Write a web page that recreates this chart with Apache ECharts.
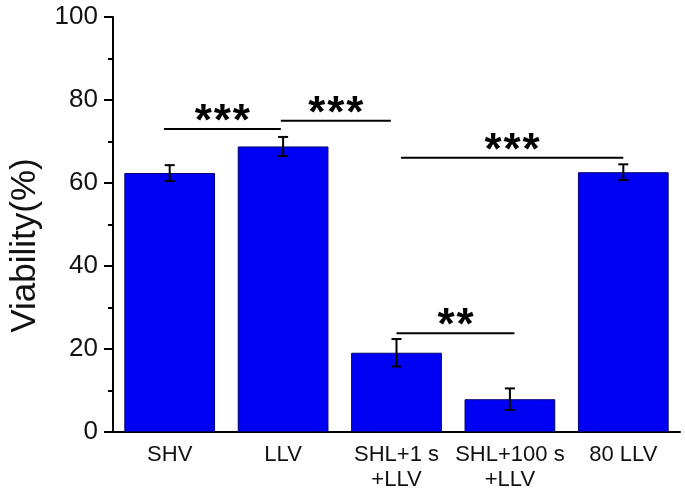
<!DOCTYPE html>
<html><head><meta charset="utf-8">
<script src="https://cdn.jsdelivr.net/npm/echarts@6/dist/echarts.min.js"></script>
<style>html,body{margin:0;padding:0;background:#fff}#c{width:685px;height:495px}</style>
</head><body><div id="c"></div>
<script>
var categories = ['SHV', 'LLV', 'SHL+1 s\n+LLV', 'SHL+100 s\n+LLV', '80 LLV'];
var means = [62.4, 68.8, 19.1, 7.9, 62.6];
var errors = [1.9, 2.3, 3.3, 2.6, 1.9];
var yTicks = [0, 20, 40, 60, 80, 100];
// significance brackets: [x start (category index), x end, y value, label]
var brackets = [
  [-0.05, 0.98, 73.0, '***'],
  [0.98, 1.95, 75.0, '***'],
  [2.04, 4.0, 66.1, '***'],
  [2.0, 3.04, 23.8, '**']
];

var errData = means.map(function (m, i) { return [i, m - errors[i], m + errors[i]]; });

var chart = echarts.init(document.getElementById('c'), null, {renderer: 'canvas'});
var FONT = 'Liberation Sans, Arial, sans-serif';
chart.setOption({
  animation: false,
  backgroundColor: '#fff',
  grid: {left: 112, right: 5, top: 17, bottom: 63},
  xAxis: [
    {type: 'category', data: categories, boundaryGap: true,
     axisLine: {onZero: false, lineStyle: {color: '#000', width: 2}},
     axisTick: {alignWithLabel: true, length: 8, lineStyle: {color: '#000', width: 2}},
     axisLabel: {color: '#111', fontFamily: FONT, fontSize: 22, lineHeight: 25, margin: 10, interval: 0}},
    {type: 'category', data: categories, boundaryGap: true, position: 'bottom',
     axisLine: {show: false, onZero: false},
     axisTick: {length: 4, lineStyle: {color: '#000', width: 2}},
     axisLabel: {show: false}},
    {type: 'value', min: -0.5, max: 4.5, show: false, axisLine: {onZero: false}}
  ],
  yAxis: [{
    type: 'value', min: yTicks[0], max: yTicks[yTicks.length - 1], interval: 20,
    name: 'Viability(%)', nameLocation: 'middle', nameGap: 70,
    nameTextStyle: {fontFamily: FONT, fontSize: 35, color: '#111', padding: [0, 42, 0, 0]},
    axisLine: {show: true, onZero: false, lineStyle: {color: '#000', width: 2}},
    axisTick: {show: true, length: 9, lineStyle: {color: '#000', width: 2}},
    minorTick: {show: true, splitNumber: 2, length: 5, lineStyle: {color: '#000', width: 2}},
    splitLine: {show: false},
    axisLabel: {color: '#111', fontFamily: FONT, fontSize: 26, margin: 15}
  }],
  series: [
    {type: 'bar', data: means, xAxisIndex: 0, barCategoryGap: '20%',
     itemStyle: {color: '#0000f5', borderColor: '#000070', borderWidth: 1}},
    {type: 'custom', xAxisIndex: 0, data: errData, z: 5,
     renderItem: function (params, api) {
       var lo = api.coord([api.value(0), api.value(1)]);
       var hi = api.coord([api.value(0), api.value(2)]);
       var x = lo[0], w = 5;
       var st = {stroke: '#000', lineWidth: 2};
       return {type: 'group', children: [
         {type: 'line', shape: {x1: x, y1: lo[1], x2: x, y2: hi[1]}, style: st},
         {type: 'line', shape: {x1: x - w, y1: lo[1], x2: x + w, y2: lo[1]}, style: st},
         {type: 'line', shape: {x1: x - w, y1: hi[1], x2: x + w, y2: hi[1]}, style: st}
       ]};
     }},
    {type: 'custom', xAxisIndex: 2, data: brackets, z: 6,
     renderItem: function (params, api) {
       var b = brackets[params.dataIndex];
       var p1 = api.coord([b[0], b[2]]);
       var p2 = api.coord([b[1], b[2]]);
       var cx = (p1[0] + p2[0]) / 2;
       var n = b[3].length;
       var kids = [{type: 'line', shape: {x1: p1[0], y1: p1[1], x2: p2[0], y2: p2[1]}, style: {stroke: '#000', lineWidth: 2}}];
       for (var k = 0; k < n; k++) {
         kids.push({type: 'text', style: {text: b[3].charAt(k), x: cx + (k - (n - 1) / 2) * 19, y: p1[1] + 16,
           align: 'center', verticalAlign: 'bottom', font: 'bold 44px Liberation Sans, Arial, sans-serif', fill: '#000'}});
       }
       return {type: 'group', children: kids};
     }}
  ]
});
</script></body></html>
